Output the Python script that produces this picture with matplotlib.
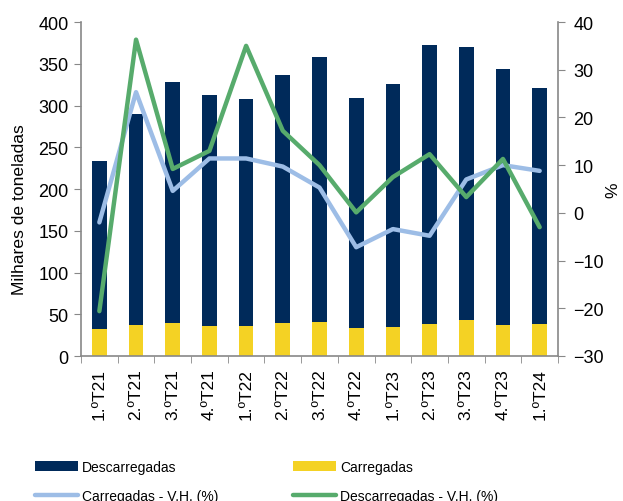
import matplotlib.pyplot as plt
import numpy as np

plt.rcParams['font.family'] = ['Liberation Sans', 'DejaVu Sans']

quarters = ["1.ºT21", "2.ºT21", "3.ºT21", "4.ºT21", "1.ºT22", "2.ºT22", "3.ºT22",
            "4.ºT22", "1.ºT23", "2.ºT23", "3.ºT23", "4.ºT23", "1.ºT24"]
# thousand tonnes
carregadas = [32, 37, 39, 36.5, 36, 40, 41, 34, 35, 38.5, 43.5, 37, 38]
total = [233.5, 290, 328, 312, 308, 337, 358, 309, 326, 372, 370.5, 343.5, 321]
descarregadas = [t - c for t, c in zip(total, carregadas)]
# year-on-year change (%)
vh_carregadas = [-2.0, 25.3, 4.6, 11.4, 11.4, 9.7, 5.3, -7.2, -3.4, -4.8, 7.0, 10.0, 8.8]
vh_descarregadas = [-20.6, 36.3, 9.2, 13.0, 35.0, 17.2, 10.0, 0.1, 7.5, 12.3, 3.3, 11.3, -3.0]

navy = '#002A5A'
yellow = '#F4D224'
lightblue = '#9DBDE6'
green = '#57AB6C'
gray = '#888888'

fig = plt.figure(figsize=(6.23, 5.02), dpi=100)
ax = fig.add_axes([81 / 623, 1 - 357 / 502, 477 / 623, 334 / 502])
x = np.arange(len(quarters))

ax.bar(x, carregadas, width=0.4, color=yellow, label='Carregadas', zorder=2)
ax.bar(x, descarregadas, width=0.4, bottom=carregadas, color=navy,
       label='Descarregadas', zorder=2)
ax.set_xlim(-0.5, len(quarters) - 0.5)
ax.set_ylim(0, 400)
ax.set_yticks(range(0, 401, 50))
ax.set_xticks(x)
ax.set_xticklabels(quarters, rotation=90, fontsize=12.5)
ax.set_xticks(np.arange(-0.5, len(quarters), 1), minor=True)
ax.tick_params(axis='x', which='major', length=0, pad=9)
ax.tick_params(axis='x', which='minor', length=5, color=gray)
ax.tick_params(axis='y', length=5, color=gray, labelsize=13, pad=4)
ax.set_ylabel('Milhares de toneladas', fontsize=12.6)
ax.yaxis.set_label_coords(-0.113, 0.44)
for s in ['top', 'right']:
    ax.spines[s].set_visible(False)
for s in ['left', 'bottom']:
    ax.spines[s].set_color(gray)
    ax.spines[s].set_linewidth(1.2)

ax2 = ax.twinx()
ax2.plot(x, vh_carregadas, color=lightblue, lw=3.2, solid_capstyle='round',
         label='Carregadas - V.H. (%)')
ax2.plot(x, vh_descarregadas, color=green, lw=3.2, solid_capstyle='round',
         label='Descarregadas - V.H. (%)')
ax2.set_ylim(-30, 40)
ax2.set_yticks(range(-30, 41, 10))
ax2.tick_params(axis='y', length=5, color=gray, labelsize=13, pad=6)
ax2.set_ylabel('%', fontsize=12.6, labelpad=1)
for s in ['top', 'left', 'bottom']:
    ax2.spines[s].set_visible(False)
ax2.spines['right'].set_color(gray)
ax2.spines['right'].set_linewidth(1.2)

h1, l1 = ax.get_legend_handles_labels()
h2, l2 = ax2.get_legend_handles_labels()
handles = [h1[1], h2[0], h1[0], h2[1]]
labels = [l1[1], l2[0], l1[0], l2[1]]
fig.legend(handles, labels, ncol=2, loc='upper left', bbox_to_anchor=(35 / 623, 1 - 461 / 502),
           frameon=False, fontsize=10, handlelength=3.1, handletextpad=0.28,
           columnspacing=5.4, labelspacing=1.05, borderpad=0, borderaxespad=0)

fig.savefig('out.png', dpi=100)
